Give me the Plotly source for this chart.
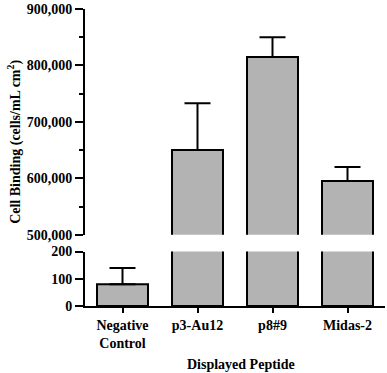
import plotly.graph_objects as go

categories = ["Negative<br>Control", "p3-Au12", "p8#9", "Midas-2"]
values = [80, 650000, 815000, 595000]
errors = [60, 83000, 35000, 25000]

top_ticks = [500000, 600000, 700000, 800000, 900000]
bottom_ticks = [0, 100, 200]

FONT = "Liberation Serif"
fs = 14

def bar_trace(xa, ya):
    return go.Bar(
        x=list(range(len(categories))), y=values, xaxis=xa, yaxis=ya,
        width=0.68,
        marker=dict(color="#b3b3b3", line=dict(color="black", width=2)),
        error_y=dict(type="data", symmetric=False, array=errors,
                     arrayminus=[0] * len(values), color="black",
                     thickness=2, width=13),
        showlegend=False, cliponaxis=True, hoverinfo="skip",
    )

fig = go.Figure()
fig.add_trace(bar_trace("x", "y"))
fig.add_trace(bar_trace("x2", "y2"))

ax_common = dict(showgrid=False, zeroline=False, showline=True, linecolor="black",
                 linewidth=2, ticks="outside", tickcolor="black", tickwidth=2,
                 tickfont=dict(family=FONT, size=fs, color="black", weight="bold"))

fig.update_layout(
    width=387, height=373,
    margin=dict(l=85, r=2, t=6, b=67),
    plot_bgcolor="white", paper_bgcolor="white",
    bargap=0,
    xaxis=dict(domain=[0, 1], range=[-0.5, 3.5], anchor="y",
               tickmode="array", tickvals=list(range(len(categories))),
               ticktext=categories, ticklen=5, **ax_common),
    yaxis=dict(domain=[0, 0.1833], range=[0, 200], anchor="x",
               tickmode="array", tickvals=bottom_ticks, ticklen=8,
               **ax_common),
    xaxis2=dict(domain=[0, 1], range=[-0.5, 3.5], anchor="y2", visible=False),
    yaxis2=dict(domain=[0.24, 1], range=[500000, 900000], anchor="x2",
                tickmode="array", tickvals=top_ticks, tickformat=",d", ticklen=8,
                minor=dict(dtick=50000, tick0=0, ticks="outside", ticklen=4,
                           tickwidth=2, tickcolor="black"),
                **ax_common),
    annotations=[
        dict(text="Cell Binding (cells/mL cm<sup>2</sup>)", textangle=-90,
             xref="paper", yref="paper", x=-0.233, y=0.553,
             xanchor="center", yanchor="middle", showarrow=False,
             font=dict(family=FONT, size=fs, color="black", weight="bold")),
        dict(text="Displayed Peptide",
             xref="paper", yref="paper", x=0.52, y=-0.197,
             xanchor="center", yanchor="middle", showarrow=False,
             font=dict(family=FONT, size=fs, color="black", weight="bold")),
    ],
)

fig.write_html("out.html",
               config={"displayModeBar": False, "staticPlot": True},
               post_script="document.body.style.margin='0';document.body.style.overflow='hidden';")
